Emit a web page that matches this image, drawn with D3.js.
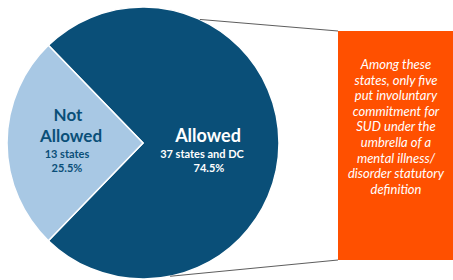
<!DOCTYPE html>
<html>
<head>
<meta charset="utf-8">
<script src="https://cdn.jsdelivr.net/npm/d3@7"></script>
<style>
  body { margin: 0; background: #fff; }
  svg { display: block; font-family: Lato, "Open Sans", sans-serif; }
</style>
</head>
<body>
<div id="chart"></div>
<script>
// data
const categories = ["Allowed", "Not Allowed"];
const shares = [74.5, 25.5];
const subLabels = ["37 states and DC", "13 states"];
const colors = ["#0a4f78", "#a8c8e4"];
const noteLines = ["Among these", "states, only five", "put involuntary", "commitment for",
  "SUD under the", "umbrella of a", "mental illness/", "disorder statutory", "definition"];

const width = 453, height = 280;
const cx = 143, cy = 143, r = 136;

const svg = d3.select("#chart").append("svg")
  .attr("width", width).attr("height", height);

// not allowed slice centred on the left side
const notSpan = shares[1] / 100 * 2 * Math.PI;
const pie = d3.pie().sort(null).value(d => d)
  .startAngle(1.5 * Math.PI + notSpan / 2 - 2 * Math.PI)
  .endAngle(1.5 * Math.PI + notSpan / 2);

const arc = d3.arc().innerRadius(0).outerRadius(r);

const g = svg.append("g").attr("transform", `translate(${cx},${cy})`);

g.selectAll("path")
  .data(pie(shares))
  .enter().append("path")
  .attr("d", arc)
  .attr("fill", (d, i) => colors[i])
  .attr("stroke", "#fff")
  .attr("stroke-width", 1.5);

// orange call-out box
const box = { x: 338, y: 31, w: 120, h: 229 };
svg.append("rect")
  .attr("x", box.x).attr("y", box.y)
  .attr("width", box.w).attr("height", box.h)
  .attr("fill", "#ff5000");

// connector lines from circle to box corners
const pt = a => [cx + r * Math.sin(a), cy - r * Math.cos(a)];
const topPt = pt(24.7 * Math.PI / 180), botPt = pt(168.5 * Math.PI / 180);
svg.append("line")
  .attr("x1", topPt[0]).attr("y1", topPt[1])
  .attr("x2", box.x).attr("y2", box.y)
  .attr("stroke", "#333").attr("stroke-width", 0.8);
svg.append("line")
  .attr("x1", botPt[0]).attr("y1", botPt[1])
  .attr("x2", box.x).attr("y2", box.y + box.h)
  .attr("stroke", "#333").attr("stroke-width", 0.8);

// labels
const notG = svg.append("g").attr("text-anchor", "middle").attr("fill", colors[0]);
notG.append("text").attr("x", 68).attr("y", 121)
  .attr("font-size", 17).attr("font-weight", 700).text("Not");
notG.append("text").attr("x", 71).attr("y", 141.5)
  .attr("font-size", 17).attr("font-weight", 700).text("Allowed");
notG.append("text").attr("x", 67).attr("y", 158)
  .attr("font-size", 11).attr("font-weight", 700).text(subLabels[1]);
notG.append("text").attr("x", 67).attr("y", 172)
  .attr("font-size", 11).attr("font-weight", 700).text(shares[1] + "%");

const alG = svg.append("g").attr("text-anchor", "middle").attr("fill", "#fff");
alG.append("text").attr("x", 208).attr("y", 141.5)
  .attr("font-size", 18).attr("font-weight", 700).text(categories[0]);
alG.append("text").attr("x", 202).attr("y", 158)
  .attr("font-size", 11).attr("font-weight", 700).text(subLabels[0]);
alG.append("text").attr("x", 209).attr("y", 172)
  .attr("font-size", 11).attr("font-weight", 700).text(shares[0] + "%");

// call-out text
svg.append("g").attr("text-anchor", "middle").attr("fill", "#fff")
  .selectAll("text")
  .data(noteLines)
  .enter().append("text")
  .attr("x", 396)
  .attr("y", (d, i) => 69 + i * 15.6)
  .attr("font-size", 13)
  .attr("font-style", "italic")
  .text(d => d);
</script>
</body>
</html>
